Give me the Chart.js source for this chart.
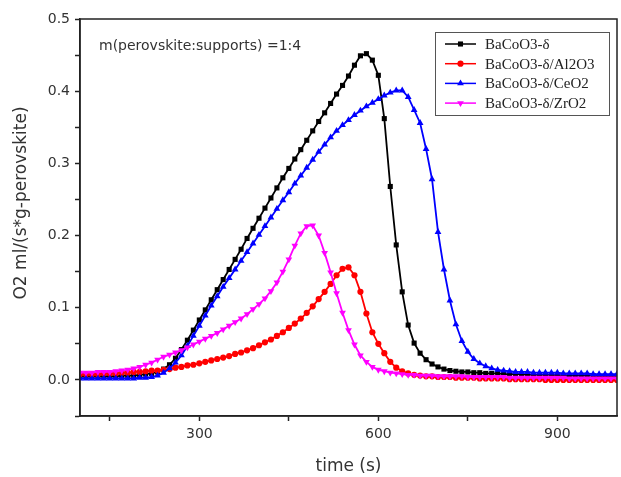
<!DOCTYPE html>
<html lang="en">
<head>
  <meta charset="UTF-8">
  <title>O2 release</title>
  <script src="https://cdn.jsdelivr.net/npm/chart.js"></script>
  <style>
    body {
      margin: 0;
      background: #ffffff;
    }
    canvas {
      display: block;
    }
  </style>
</head>
<body>

<canvas id="o2Chart" width="621" height="477"></canvas>

<script>
  // time axis (s)
  const times = [
    100, 110, 120, 130, 140, 150, 160, 170, 180, 190,
    200, 210, 220, 230, 240, 250, 260, 270, 280, 290,
    300, 310, 320, 330, 340, 350, 360, 370, 380, 390,
    400, 410, 420, 430, 440, 450, 460, 470, 480, 490,
    500, 510, 520, 530, 540, 550, 560, 570, 580, 590,
    600, 610, 620, 630, 640, 650, 660, 670, 680, 690,
    700, 710, 720, 730, 740, 750, 760, 770, 780, 790,
    800, 810, 820, 830, 840, 850, 860, 870, 880, 890,
    900, 910, 920, 930, 940, 950, 960, 970, 980, 990,
    1000
  ];

  // BaCoO3-δ
  const bacoo3 = [
    0.005, 0.005, 0.005, 0.005, 0.005, 0.005, 0.005, 0.006, 0.006, 0.006,
    0.007, 0.008, 0.009, 0.011, 0.015, 0.021, 0.030, 0.042, 0.055, 0.069,
    0.083, 0.097, 0.111, 0.125, 0.139, 0.153, 0.167, 0.181, 0.196, 0.210,
    0.224, 0.238, 0.252, 0.266, 0.280, 0.293, 0.306, 0.319, 0.332, 0.345,
    0.358, 0.370, 0.383, 0.396, 0.408, 0.421, 0.436, 0.449, 0.452, 0.443,
    0.422, 0.362, 0.268, 0.187, 0.122, 0.076, 0.051, 0.037, 0.028, 0.022,
    0.018, 0.015, 0.013, 0.012, 0.011, 0.011, 0.010, 0.010, 0.009, 0.009,
    0.009, 0.008, 0.008, 0.008, 0.008, 0.007, 0.007, 0.007, 0.007, 0.007,
    0.006, 0.006, 0.006, 0.006, 0.006, 0.006, 0.006, 0.005, 0.005, 0.005,
    0.005
  ];

  // BaCoO3-δ/Al2O3
  const withAl2O3 = [
    0.008, 0.008, 0.008, 0.008, 0.009, 0.009, 0.009, 0.010, 0.010, 0.011,
    0.011, 0.012, 0.013, 0.013, 0.014, 0.015, 0.017, 0.018, 0.020, 0.021,
    0.023, 0.025, 0.027, 0.029, 0.031, 0.033, 0.036, 0.038, 0.041, 0.044,
    0.048, 0.052, 0.056, 0.061, 0.066, 0.072, 0.078, 0.085, 0.093, 0.102,
    0.112, 0.122, 0.133, 0.145, 0.154, 0.156, 0.145, 0.122, 0.092, 0.066,
    0.050, 0.037, 0.025, 0.017, 0.012, 0.009, 0.007, 0.006, 0.005, 0.005,
    0.004, 0.004, 0.004, 0.003, 0.003, 0.003, 0.003, 0.002, 0.002, 0.002,
    0.002, 0.002, 0.001, 0.001, 0.001, 0.001, 0.001, 0.001, 0.000, 0.000,
    0.000, 0.000, 0.000, 0.000, 0.000, 0.000, 0.000, 0.000, 0.000, 0.000,
    0.000
  ];

  // BaCoO3-δ/CeO2
  const withCeO2 = [
    0.002, 0.002, 0.002, 0.002, 0.002, 0.002, 0.002, 0.002, 0.002, 0.002,
    0.003, 0.003, 0.004, 0.006, 0.010, 0.016, 0.024, 0.034, 0.047, 0.061,
    0.075, 0.089, 0.103, 0.116, 0.129, 0.141, 0.153, 0.165, 0.177, 0.189,
    0.201, 0.213, 0.225, 0.237, 0.249, 0.260, 0.272, 0.283, 0.294, 0.305,
    0.316, 0.326, 0.336, 0.345, 0.353, 0.360, 0.367, 0.373, 0.379, 0.384,
    0.389, 0.394, 0.398, 0.401, 0.401, 0.392, 0.374, 0.356, 0.320, 0.278,
    0.205, 0.153, 0.110, 0.077, 0.054, 0.039, 0.029, 0.023, 0.019, 0.016,
    0.014, 0.013, 0.012, 0.011, 0.011, 0.011, 0.010, 0.010, 0.010, 0.010,
    0.010, 0.009, 0.009, 0.009, 0.009, 0.009, 0.008, 0.008, 0.008, 0.008,
    0.008
  ];

  // BaCoO3-δ/ZrO2
  const withZrO2 = [
    0.010, 0.010, 0.010, 0.011, 0.011, 0.011, 0.012, 0.013, 0.014, 0.016,
    0.018, 0.021, 0.024, 0.028, 0.032, 0.035, 0.038, 0.041, 0.045, 0.049,
    0.053, 0.057, 0.061, 0.065, 0.070, 0.075, 0.080, 0.085, 0.091, 0.098,
    0.105, 0.113, 0.123, 0.135, 0.150, 0.167, 0.186, 0.203, 0.213, 0.214,
    0.200, 0.176, 0.149, 0.120, 0.093, 0.069, 0.049, 0.034, 0.025, 0.018,
    0.014, 0.012, 0.010, 0.009, 0.008, 0.007, 0.007, 0.006, 0.006, 0.006,
    0.005, 0.005, 0.005, 0.005, 0.005, 0.004, 0.004, 0.004, 0.004, 0.004,
    0.004, 0.004, 0.003, 0.003, 0.003, 0.003, 0.003, 0.003, 0.003, 0.003,
    0.003, 0.003, 0.002, 0.002, 0.002, 0.002, 0.002, 0.002, 0.002, 0.002,
    0.002
  ];

  // tick positions; labels only on the major ones
  const xTicks = [150, 300, 450, 600, 750, 900];
  const xLabelled = [300, 600, 900];

  const seriesNames = ['BaCoO3-δ', 'BaCoO3-δ/Al2O3', 'BaCoO3-δ/CeO2', 'BaCoO3-δ/ZrO2'];
  const seriesValues = [bacoo3, withAl2O3, withCeO2, withZrO2];
  const seriesColors = ['#000000', '#ff0000', '#0000ff', '#ff00ff'];
  const seriesMarkers = ['rect', 'circle', 'triangle', 'triangle'];
  const seriesRotation = [0, 0, 0, 180];
  const seriesRadius = [3.6, 3.1, 3.9, 3.9];

  const axisFont = '"DejaVu Sans", sans-serif';

  // frame round the plot, y title, the ratio note and an Origin-like legend
  const framePlugin = {
    id: 'frame',
    afterDraw(chart) {
      const { ctx, chartArea: a } = chart;
      ctx.save();
      ctx.strokeStyle = '#222';
      ctx.lineWidth = 1.5;
      ctx.strokeRect(a.left, a.top, a.right - a.left, a.bottom - a.top);

      // y title sits a bit above the axis centre in the original
      ctx.save();
      ctx.translate(22, 203);
      ctx.rotate(-Math.PI / 2);
      ctx.fillStyle = '#333';
      ctx.font = '17px ' + axisFont;
      ctx.textAlign = 'center';
      ctx.textBaseline = 'middle';
      ctx.fillText('O2 ml/(s*g-perovskite)', 0, 0);
      ctx.restore();

      ctx.fillStyle = '#333';
      ctx.font = '14px ' + axisFont;
      ctx.textBaseline = 'middle';
      ctx.fillText('m(perovskite:supports) =1:4', 99, 46);

      // legend
      const bx = 435, by = 32, bw = 174, bh = 83;
      ctx.strokeStyle = '#555';
      ctx.lineWidth = 1;
      ctx.strokeRect(bx + 0.5, by + 0.5, bw, bh);
      ctx.font = '15px "Liberation Serif", serif';
      seriesNames.forEach((name, i) => {
        const y = by + 12 + i * 19.7;
        ctx.strokeStyle = seriesColors[i];
        ctx.fillStyle = seriesColors[i];
        ctx.lineWidth = 1.5;
        ctx.beginPath();
        ctx.moveTo(445, y);
        ctx.lineTo(476, y);
        ctx.stroke();
        drawMarker(ctx, seriesMarkers[i], seriesRotation[i], 460.5, y, seriesRadius[i]);
        ctx.fillStyle = '#222';
        ctx.fillText(name, 485, y + 1);
      });
      ctx.restore();
    }
  };

  function drawMarker(ctx, style, rot, x, y, r) {
    ctx.beginPath();
    if (style === 'rect') {
      const s = r * Math.SQRT1_2;
      ctx.rect(x - s, y - s, 2 * s, 2 * s);
    } else if (style === 'circle') {
      ctx.arc(x, y, r, 0, Math.PI * 2);
    } else {
      const dir = rot === 180 ? -1 : 1;
      ctx.moveTo(x, y - dir * r);
      ctx.lineTo(x - r * 0.87, y + dir * r * 0.5);
      ctx.lineTo(x + r * 0.87, y + dir * r * 0.5);
      ctx.closePath();
    }
    ctx.fill();
  }

  new Chart(document.getElementById('o2Chart'), {
    type: 'line',
    data: {
      datasets: seriesNames.map((name, i) => ({
        label: name,
        data: times.map((t, k) => ({ x: t, y: seriesValues[i][k] })),
        borderColor: seriesColors[i],
        backgroundColor: seriesColors[i],
        borderWidth: 1.8,
        pointStyle: seriesMarkers[i],
        rotation: seriesRotation[i],
        pointRadius: seriesRadius[i],
        pointBorderWidth: 0,
        tension: 0,
        order: 3 - i
      }))
    },
    options: {
      responsive: false,
      animation: false,
      events: [],
      layout: { padding: { top: 19, right: 2, left: 0, bottom: 0 } },
      plugins: {
        legend: { display: false },
        tooltip: { enabled: false }
      },
      scales: {
        x: {
          type: 'linear',
          min: 100,
          max: 1000,
          afterFit: s => { s.height = 61; },
          afterBuildTicks: s => { s.ticks = xTicks.map(v => ({ value: v })); },
          ticks: {
            autoSkip: false,
            maxRotation: 0,
            padding: 5,
            color: '#333',
            font: { family: axisFont, size: 14 },
            callback: v => (xLabelled.includes(v) ? String(v) : '')
          },
          grid: {
            drawOnChartArea: false,
            tickLength: 5,
            tickWidth: 1.5,
            tickColor: '#222'
          },
          border: { color: '#222', width: 1.5 },
          title: {
            display: true,
            text: 'time (s)',
            color: '#333',
            font: { family: axisFont, size: 17 },
            padding: { top: 3, bottom: 0 }
          }
        },
        y: {
          min: -0.05,
          max: 0.5,
          afterFit: s => { s.width = 80; },
          ticks: {
            stepSize: 0.05,
            autoSkip: false,
            padding: 5,
            color: '#333',
            font: { family: axisFont, size: 14 },
            callback: v => {
              const c = Math.round(v * 100);
              return c % 10 === 0 ? (c / 100).toFixed(1) : '';
            }
          },
          grid: {
            drawOnChartArea: false,
            tickLength: 5,
            tickWidth: 1.5,
            tickColor: '#222'
          },
          border: { color: '#222', width: 1.5 }
        }
      }
    },
    plugins: [framePlugin]
  });
</script>

</body>
</html>
